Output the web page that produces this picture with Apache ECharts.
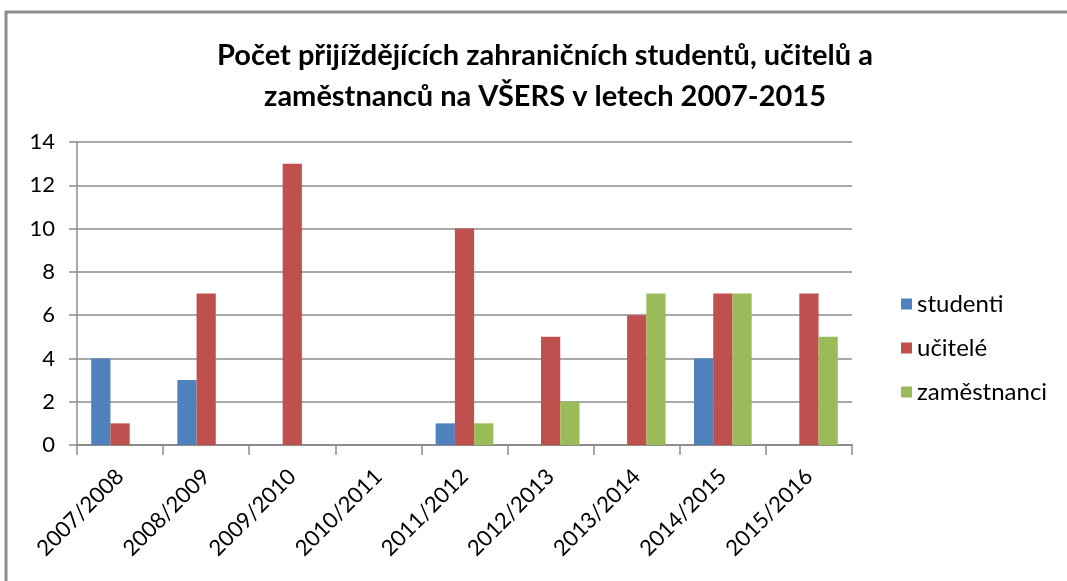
<!DOCTYPE html>
<html>
<head>
<meta charset="utf-8">
<script src="https://cdn.jsdelivr.net/npm/echarts@6/dist/echarts.min.js"></script>
<style>
  html, body { margin: 0; padding: 0; background: #fff; }
  #chart { width: 1067px; height: 581px; }
</style>
</head>
<body>
<div id="chart"></div>
<script>
const categories = ['2007/2008', '2008/2009', '2009/2010', '2010/2011', '2011/2012', '2012/2013', '2013/2014', '2014/2015', '2015/2016']
const studenti = [4, 3, 0, 0, 1, 0, 0, 4, 0]
const ucitele = [1, 7, 13, 0, 10, 5, 6, 7, 7]
const zamestnanci = [0, 0, 0, 0, 1, 2, 7, 7, 5]
const seriesNames = ['studenti', 'učitelé', 'zaměstnanci']
const yTicks = [0, 2, 4, 6, 8, 10, 12, 14]

const font = 'Lato, Liberation Sans, sans-serif'
const gray = '#8c8c8c'

var myChart = echarts.init(document.getElementById('chart'))

function barSeries (name, data, color) {
  return {
    name: name,
    type: 'bar',
    barGap: '0%',
    barCategoryGap: '33%',
    itemStyle: { color: color },
    data: data
  }
}

myChart.setOption({
  animation: false,
  title: {
    text: 'Počet přijíždějících zahraničních studentů, učitelů a\nzaměstnanců na VŠERS v letech 2007-2015',
    left: 540,
    top: 30,
    textAlign: 'center',
    textStyle: {
      fontFamily: font,
      fontSize: 29,
      fontWeight: 'bold',
      color: '#000',
      lineHeight: 41
    }
  },
  graphic: [
    {
      type: 'polyline',
      shape: { points: [[6, 581], [6, 12], [1067, 12]] },
      style: { stroke: gray, lineWidth: 3, fill: null }
    }
  ],
  legend: {
    data: seriesNames,
    orient: 'vertical',
    left: 896,
    top: 287,
    itemWidth: 11,
    itemHeight: 11,
    itemGap: 20,
    icon: 'rect',
    textStyle: {
      fontFamily: font,
      fontSize: 24,
      color: '#000'
    }
  },
  grid: {
    left: 77,
    right: 215,
    top: 142,
    bottom: 136
  },
  xAxis: {
    type: 'category',
    data: categories,
    axisLine: { show: true, lineStyle: { color: gray, width: 2 } },
    axisTick: { show: true, length: 10, lineStyle: { color: gray, width: 1.5 } },
    axisLabel: {
      rotate: 45,
      margin: 28,
      interval: 0,
      fontFamily: font,
      fontSize: 22,
      color: '#000'
    }
  },
  yAxis: {
    type: 'value',
    min: yTicks[0],
    max: yTicks[yTicks.length - 1],
    interval: 2,
    axisLine: { show: true, lineStyle: { color: gray, width: 1.5 } },
    axisTick: { show: true, length: 8, lineStyle: { color: gray, width: 1.5 } },
    splitLine: { show: true, lineStyle: { color: gray, width: 1.5 } },
    axisLabel: {
      margin: 22,
      fontFamily: font,
      fontSize: 22,
      color: '#000'
    }
  },
  series: [
    barSeries(seriesNames[0], studenti, '#4f81bd'),
    barSeries(seriesNames[1], ucitele, '#c0504d'),
    barSeries(seriesNames[2], zamestnanci, '#9bbb59')
  ]
})
</script>
</body>
</html>
